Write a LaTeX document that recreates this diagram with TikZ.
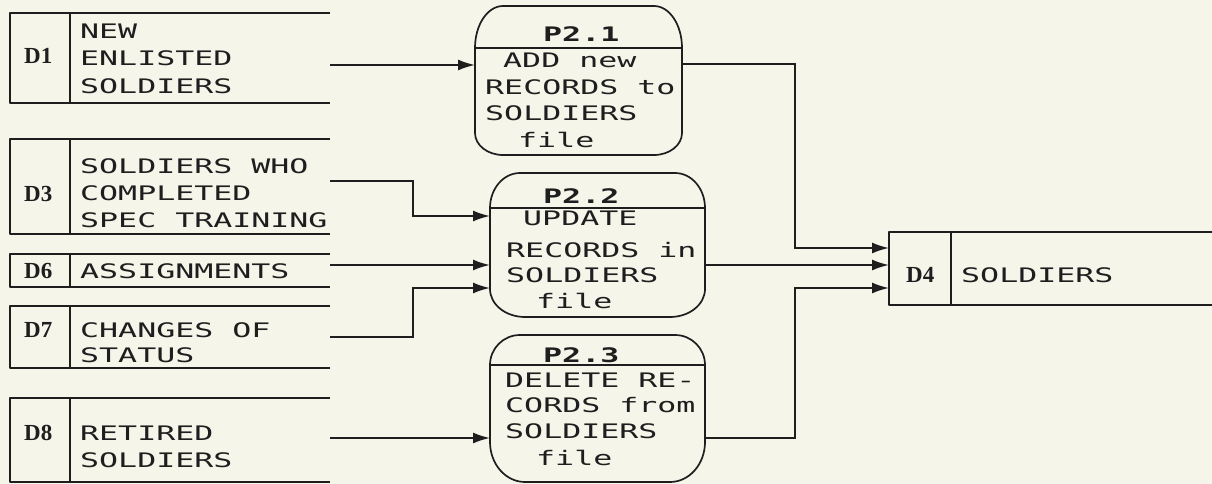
\documentclass[tikz,border=0pt]{standalone}
\usepackage{fontspec}
\usetikzlibrary{arrows.meta,calc}
\newfontfamily\plotfont[FakeStretch=1.58]{DejaVu Sans Mono}
\newfontfamily\labfont{Liberation Serif}
\definecolor{bgcol}{HTML}{F6F5EA}
\definecolor{ink}{HTML}{1E1E1E}
\newcommand{\storeshape}[2]{%
  \draw[inkline] (#1.north east) -- (#1.north west) -- (#1.south west) -- (#1.south east);
  \draw[inkline] ([xshift=#2]#1.north west) -- ([xshift=#2]#1.south west);}
% #1 name, #2 top drop, #3 top rx, #4 bottom ry, #5 bottom rx
\newcommand{\procshape}[5]{%
  \draw[inkline] ([yshift=-#2]#1.north west) -- ([yshift=#4]#1.south west)
    arc[start angle=180,end angle=270,x radius=#5,y radius=#4]
    -- ([xshift=-#5]#1.south east)
    arc[start angle=270,end angle=360,x radius=#5,y radius=#4]
    -- ([yshift=-#2]#1.north east)
    arc[start angle=0,end angle=90,x radius=#3,y radius=#2]
    -- ([xshift=#3]#1.north west)
    arc[start angle=90,end angle=180,x radius=#3,y radius=#2] -- cycle;
  \draw[inkline] ([yshift=-#2]#1.north west) -- ([yshift=-#2]#1.north east);}
\tikzset{
  inkline/.style={draw=ink,line width=1.7pt,line join=round},
  flow/.style={draw=ink,line width=1.7pt,-{Latex[length=17pt,width=11pt]}},
  plottxt/.style={font=\plotfont\fontsize{20}{24}\selectfont,text=ink,anchor=base west,inner sep=0pt},
  hdrtxt/.style={font=\plotfont\bfseries\fontsize{20}{24}\selectfont,text=ink,anchor=base west,inner sep=0pt},
  dlabel/.style={font=\labfont\bfseries\fontsize{23}{27}\selectfont,text=ink,anchor=base west,inner sep=0pt},
  storebox/.style={rectangle,inner sep=0pt,outer sep=0pt,minimum width=320pt},
  procbox/.style={rectangle,inner sep=0pt,outer sep=0pt},
}
\begin{document}
\begin{tikzpicture}[x=1pt,y=-1pt]
\useasboundingbox[fill=bgcol] (0,0) rectangle (1212,484);

% data stores
\node[storebox,minimum height=90pt] (d1) at (170,58) {};
\node[storebox,minimum height=95pt] (d3) at (170,186.5) {};
\node[storebox,minimum height=33pt] (d6) at (170,270.5) {};
\node[storebox,minimum height=62pt] (d7) at (170,337) {};
\node[storebox,minimum height=84pt] (d8) at (170,440) {};
\node[storebox,minimum width=323pt,minimum height=73pt] (d4) at (1050.5,268.5) {};
\storeshape{d1}{60pt}
\storeshape{d3}{60pt}
\storeshape{d6}{60pt}
\storeshape{d7}{60pt}
\storeshape{d8}{60pt}
\storeshape{d4}{62pt}

% processes
\node[procbox,minimum width=207pt,minimum height=149pt] (p1) at (578.5,80.5) {};
\node[procbox,minimum width=215pt,minimum height=144pt] (p2) at (597.5,245) {};
\node[procbox,minimum width=215pt,minimum height=147pt] (p3) at (597.5,408.5) {};
\procshape{p1}{42pt}{28pt}{22pt}{28pt}
\procshape{p2}{35pt}{30pt}{28pt}{35pt}
\procshape{p3}{30pt}{30pt}{40pt}{35pt}

% store labels
\node[dlabel] (l1) at (24,64) {D1};
\node[dlabel] (l3) at (24,201) {D3};
\node[dlabel] (l6) at (24,278) {D6};
\node[dlabel] (l7) at (24,337) {D7};
\node[dlabel] (l8) at (24,440) {D8};
\node[dlabel] (l4) at (906,282) {D4};

% store texts
\node[plottxt] (t1a) at (80,39) {NEW};
\node[plottxt] (t1b) at (80,66) {ENLISTED};
\node[plottxt] (t1c) at (80,94) {SOLDIERS};
\node[plottxt] (t3a) at (80,173) {SOLDIERS WHO};
\node[plottxt] (t3b) at (80,200) {COMPLETED};
\node[plottxt] (t3c) at (80,227) {SPEC TRAINING};
\node[plottxt] (t6a) at (80,278) {ASSIGNMENTS};
\node[plottxt] (t7a) at (80,337) {CHANGES OF};
\node[plottxt] (t7b) at (80,362) {STATUS};
\node[plottxt] (t8a) at (80,440) {RETIRED};
\node[plottxt] (t8b) at (80,467) {SOLDIERS};
\node[plottxt] (t4a) at (961,282) {SOLDIERS};

% process texts
\node[hdrtxt] (h1) at (543,42) {P2.1};
\node[plottxt] (q1a) at (503,68) {ADD new};
\node[plottxt] (q1b) at (485,95) {RECORDS to};
\node[plottxt] (q1c) at (485,121) {SOLDIERS};
\node[plottxt] (q1d) at (518,147) {file};
\node[hdrtxt] (h2) at (543,203) {P2.2};
\node[plottxt] (q2a) at (523,225) {UPDATE};
\node[plottxt] (q2b) at (506,257) {RECORDS in};
\node[plottxt] (q2c) at (506,282) {SOLDIERS};
\node[plottxt] (q2d) at (536,308) {file};
\node[hdrtxt] (h3) at (543,362) {P2.3};
\node[plottxt] (q3a) at (505,387) {DELETE RE-};
\node[plottxt] (q3b) at (505,412) {CORDS from};
\node[plottxt] (q3c) at (505,438) {SOLDIERS};
\node[plottxt] (q3d) at (536,465) {file};

% connectors
\coordinate (a1) at ([yshift=-7pt]d1.east);
\draw[flow] (a1) -- (a1 -| p1.west);

\coordinate (a3) at ([yshift=5.5pt]d3.east);
\coordinate (a3k) at ([xshift=83pt]d3.east);
\coordinate (a3in) at ([yshift=29pt]p2.west);
\draw[flow] (a3) -- (a3 -| a3k) -- (a3k |- a3in) -- (a3in);

\coordinate (a6) at ([yshift=5.5pt]d6.east);
\draw[flow] (a6) -- (a6 -| p2.west);

\coordinate (a7) at (d7.east);
\coordinate (a7k) at ([xshift=83pt]d7.east);
\coordinate (a7in) at ([yshift=-43pt]p2.west);
\draw[flow] (a7) -- (a7k) -- (a7k |- a7in) -- (a7in);

\coordinate (a8) at ([yshift=2pt]d8.east);
\draw[flow] (a8) -- (a8 -| p3.west);

\coordinate (kx) at ([xshift=-94pt]d4.west);
\coordinate (b1) at ([yshift=16.5pt]p1.east);
\coordinate (b1in) at ([yshift=20.5pt]d4.west);
\draw[flow] (b1) -- (b1 -| kx) -- (kx |- b1in) -- (b1in);

\coordinate (b2) at ([yshift=-20pt]p2.east);
\draw[flow] (b2) -- (b2 -| d4.west);

\coordinate (b3) at ([yshift=-29.5pt]p3.east);
\coordinate (b3in) at ([yshift=-19.5pt]d4.west);
\draw[flow] (b3) -- (b3 -| kx) -- (kx |- b3in) -- (b3in);
\end{tikzpicture}
\end{document}
